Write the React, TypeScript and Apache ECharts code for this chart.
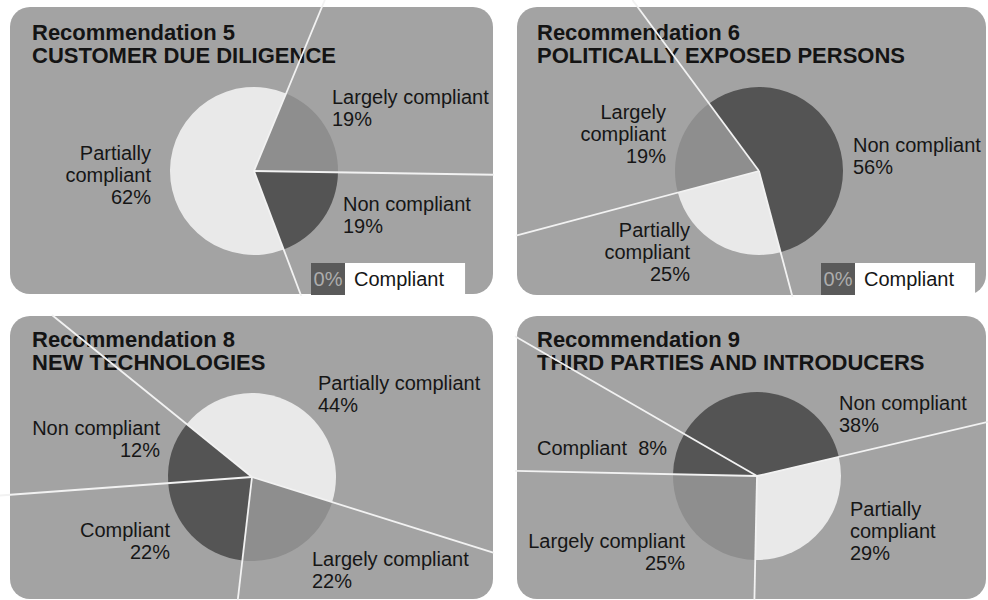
import React, { useEffect, useRef } from "react";
import * as echarts from "echarts";

const FONT = '"Liberation Sans", Arial, Helvetica, sans-serif';

// Compliance ratings per recommendation, listed clockwise from each pie's start angle
const rec5Names = ["Largely compliant", "Non compliant", "Compliant", "Partially compliant"];
const rec5Values = [19, 19, 0, 62];

const rec6Names = ["Non compliant", "Partially compliant", "Largely compliant", "Compliant"];
const rec6Values = [56, 25, 19, 0];

const rec8Names = ["Partially compliant", "Largely compliant", "Compliant", "Non compliant"];
const rec8Values = [44, 22, 22, 12];

const rec9Names = ["Non compliant", "Partially compliant", "Largely compliant", "Compliant"];
const rec9Values = [38, 29, 25, 8];

const titles = [
  "Recommendation 5\nCUSTOMER DUE DILIGENCE",
  "Recommendation 6\nPOLITICALLY EXPOSED PERSONS",
  "Recommendation 8\nNEW TECHNOLOGIES",
  "Recommendation 9\nTHIRD PARTIES AND INTRODUCERS",
];

const sliceColors: Record<string, string> = {
  "Non compliant": "#545454",
  Compliant: "#555555",
  "Largely compliant": "#8e8e8e",
  "Partially compliant": "#e9e9e9",
};

type LabelSpec = [number, number, "left" | "right", "pair" | "stack" | "inline" | "box"];

const panels = [
  {
    names: rec5Names,
    values: rec5Values,
    title: titles[0],
    bg: [10, 7, 483, 287],
    titlePos: [32, 21],
    center: [254, 171],
    startAngle: 67.5,
    clip: [0, 0, 494, 296],
    labels: {
      "Largely compliant": [332, 86, "left", "pair"],
      "Non compliant": [343, 193, "left", "pair"],
      "Partially compliant": [151, 142, "right", "stack"],
      Compliant: [311, 263, "left", "box"],
    } as Record<string, LabelSpec>,
  },
  {
    names: rec6Names,
    values: rec6Values,
    title: titles[1],
    bg: [517, 7, 469, 288],
    titlePos: [537, 21],
    center: [759, 171],
    startAngle: 126.5,
    clip: [516, 0, 988, 297],
    labels: {
      "Largely compliant": [666, 101, "right", "stack"],
      "Non compliant": [853, 134, "left", "pair"],
      "Partially compliant": [690, 219, "right", "stack"],
      Compliant: [821, 263, "left", "box"],
    } as Record<string, LabelSpec>,
  },
  {
    names: rec8Names,
    values: rec8Values,
    title: titles[2],
    bg: [10, 316, 483, 283],
    titlePos: [32, 328],
    center: [252, 477],
    startAngle: 141,
    clip: [0, 315, 494, 600],
    labels: {
      "Partially compliant": [318, 372, "left", "pair"],
      "Non compliant": [160, 417, "right", "pair"],
      Compliant: [170, 519, "right", "pair"],
      "Largely compliant": [312, 548, "left", "pair"],
    } as Record<string, LabelSpec>,
  },
  {
    names: rec9Names,
    values: rec9Values,
    title: titles[3],
    bg: [517, 316, 469, 283],
    titlePos: [537, 328],
    center: [757, 476],
    startAngle: 150,
    clip: [515, 300, 988, 600],
    labels: {
      "Non compliant": [839, 392, "left", "pair"],
      Compliant: [537, 437, "left", "inline"],
      "Partially compliant": [850, 498, "left", "stack"],
      "Largely compliant": [685, 530, "right", "pair"],
    } as Record<string, LabelSpec>,
  },
];

function labelText(name: string, value: number, style: string) {
  if (style === "box") return `{d|${value}%}{w|${name}}`;
  if (style === "inline") return `${name}  ${value}%`;
  if (style === "stack") return `${name.split(" ").join("\n")}\n${value}%`;
  return `${name}\n${value}%`;
}

// Angles (degrees) of every slice edge, matching the pie's clockwise layout
function boundaryAngles(values: number[], start: number) {
  const total = values.reduce((a, b) => a + b, 0);
  const out: number[] = [];
  let acc = 0;
  values.forEach((v) => {
    if (v <= 0) return;
    out.push(start - (acc / total) * 360);
    acc += v;
  });
  return out;
}

export default function App() {
  const ref = useRef<HTMLDivElement>(null);

  useEffect(() => {
    if (!ref.current) return;
    const chart = echarts.init(ref.current, undefined, { renderer: "svg" });

    const pieSeries = panels.map((p) => ({
      type: "pie",
      z: 2,
      center: p.center,
      radius: 84,
      startAngle: p.startAngle,
      clockwise: true,
      avoidLabelOverlap: false,
      padAngle: 0,
      data: p.names.map((n, i) => ({
        name: n,
        value: p.values[i],
        itemStyle: { color: sliceColors[n], borderWidth: 0 },
      })),
      label: {
        show: true,
        position: "outside",
        color: "#161616",
        fontFamily: FONT,
        fontSize: 20,
        lineHeight: 22,
        formatter: (params: any) =>
          labelText(params.name, params.value, p.labels[params.name][3]),
        rich: {
          d: {
            width: 34,
            height: 32,
            lineHeight: 32,
            align: "center",
            backgroundColor: "#5a5a5a",
            color: "#adadad",
            fontSize: 20,
            fontFamily: FONT,
          },
          w: {
            height: 32,
            lineHeight: 32,
            padding: [0, 21, 0, 9],
            backgroundColor: "#ffffff",
            color: "#161616",
            fontSize: 20,
            fontFamily: FONT,
          },
        },
      },
      labelLine: { show: false },
      labelLayout: (params: any) => {
        const name = p.names[params.dataIndex];
        const spec = p.labels[name];
        return { x: spec[0], y: spec[1], align: spec[2], verticalAlign: "top" };
      },
      emphasis: { disabled: true },
    }));

    const lineSeries = panels.map((p) => ({
      type: "custom",
      coordinateSystem: "none",
      z: 3,
      silent: true,
      data: boundaryAngles(p.values, p.startAngle).map((a) => [a]),
      renderItem: (params: any, api: any) => {
        const ang = (api.value(0) * Math.PI) / 180;
        const [cx, cy] = p.center;
        const [x0, y0, x1, y1] = p.clip;
        const dx = Math.cos(ang);
        const dy = -Math.sin(ang);
        const ts: number[] = [];
        if (dx > 1e-9) ts.push((x1 - cx) / dx);
        if (dx < -1e-9) ts.push((x0 - cx) / dx);
        if (dy > 1e-9) ts.push((y1 - cy) / dy);
        if (dy < -1e-9) ts.push((y0 - cy) / dy);
        const t = Math.min(...ts);
        return {
          type: "line",
          shape: { x1: cx, y1: cy, x2: cx + dx * t, y2: cy + dy * t },
          style: { stroke: "#f2f2f2", lineWidth: 1.8 },
        };
      },
    }));

    chart.setOption({
      animation: false,
      backgroundColor: "#ffffff",
      title: panels.map((p) => ({
        text: p.title,
        left: p.titlePos[0],
        top: p.titlePos[1],
        padding: 0,
        z: 1,
        textStyle: {
          fontFamily: FONT,
          fontSize: 22,
          fontWeight: "bold",
          color: "#141414",
          lineHeight: 23,
        },
      })),
      graphic: panels.map((p) => ({
        type: "rect",
        z: -10,
        silent: true,
        shape: { x: p.bg[0], y: p.bg[1], width: p.bg[2], height: p.bg[3], r: 20 },
        style: { fill: "#a3a3a3" },
      })),
      series: [...pieSeries, ...lineSeries],
    });

    return () => chart.dispose();
  }, []);

  return (
    <div
      ref={ref}
      style={{ position: "fixed", left: 0, top: 0, width: 988, height: 600 }}
    />
  );
}
